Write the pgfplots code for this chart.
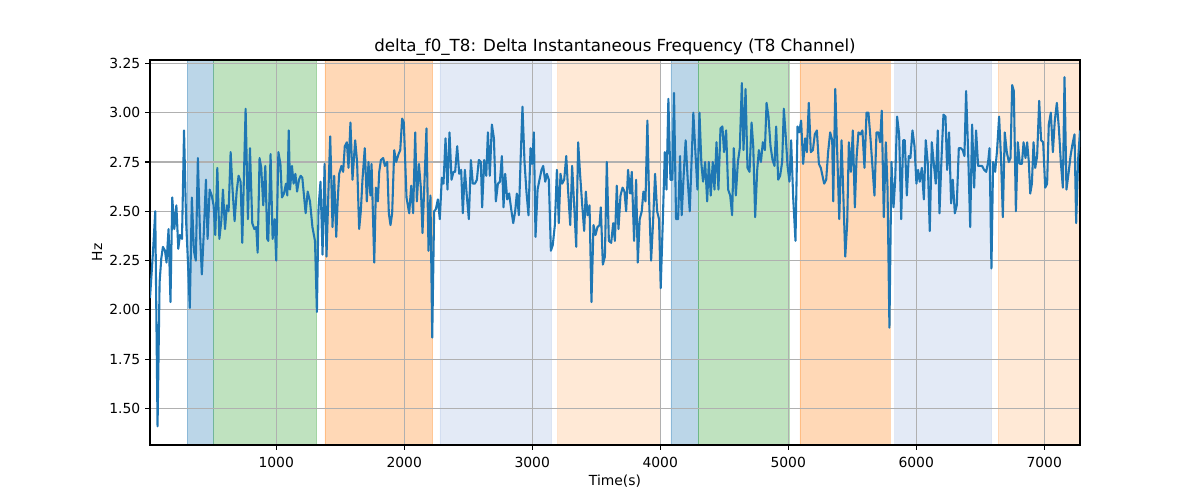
\documentclass[border=0pt]{standalone}
\usepackage{fontspec}
\setmainfont{DejaVu Sans}
\usepackage{pgfplots}
\pgfplotsset{compat=1.18}
\definecolor{tabblue}{HTML}{1F77B4}
\definecolor{taborange}{HTML}{FF7F0E}
\definecolor{tabgreen}{HTML}{2CA02C}
\definecolor{gridgray}{HTML}{B0B0B0}
\definecolor{lavblue}{RGB}{115,150,210}
\pgfplotsset{base/.style={at={(108pt,39.6pt)}, anchor=south west,
  width=669.6pt, height=277.2pt, scale only axis,
  xmin=14, xmax=7280, ymin=1.315, ymax=3.267}}
\begin{document}
\begin{tikzpicture}
\path[use as bounding box] (0,0) rectangle (864pt,360pt);
% background spans
\begin{axis}[base, hide axis]
\addplot[fill=tabblue, fill opacity=0.3, draw=tabblue, draw opacity=0.3] coordinates {(305,0) (511,0) (511,5) (305,5) (305,0)};
\addplot[fill=tabgreen, fill opacity=0.3, draw=tabgreen, draw opacity=0.3] coordinates {(511,0) (1316,0) (1316,5) (511,5) (511,0)};
\addplot[fill=taborange, fill opacity=0.3, draw=taborange, draw opacity=0.3] coordinates {(1380,0) (2222,0) (2222,5) (1380,5) (1380,0)};
\addplot[fill=lavblue, fill opacity=0.2, draw=lavblue, draw opacity=0.15] coordinates {(2279,0) (3152,0) (3152,5) (2279,5) (2279,0)};
\addplot[fill=taborange, fill opacity=0.17, draw=taborange, draw opacity=0.15] coordinates {(3198,0) (4003,0) (4003,5) (3198,5) (3198,0)};
\addplot[fill=tabblue, fill opacity=0.3, draw=tabblue, draw opacity=0.3] coordinates {(4084,0) (4297,0) (4297,5) (4084,5) (4084,0)};
\addplot[fill=tabgreen, fill opacity=0.3, draw=tabgreen, draw opacity=0.3] coordinates {(4297,0) (5008,0) (5008,5) (4297,5) (4297,0)};
\addplot[fill=taborange, fill opacity=0.3, draw=taborange, draw opacity=0.3] coordinates {(5091,0) (5794,0) (5794,5) (5091,5) (5091,0)};
\addplot[fill=lavblue, fill opacity=0.2, draw=lavblue, draw opacity=0.15] coordinates {(5832,0) (6589,0) (6589,5) (5832,5) (5832,0)};
\addplot[fill=taborange, fill opacity=0.17, draw=taborange, draw opacity=0.15] coordinates {(6641,0) (7400,0) (7400,5) (6641,5) (6641,0)};
\end{axis}
\begin{axis}[
  base,
  xtick={1000,2000,3000,4000,5000,6000,7000},
  ytick={1.5,1.75,2,2.25,2.5,2.75,3,3.25},
  xtick pos=bottom, ytick pos=left,
  tick align=outside, major tick length=3.5pt,
  tick style={black, line width=0.8pt},
  axis line style={black, line width=0.8pt},
  grid=major, grid style={gridgray, line width=0.8pt},
  /pgf/number format/assume math mode=true,
  ticklabel style={font=\fontsize{10}{12}\selectfont},
  xticklabel style={/pgf/number format/set thousands separator={}, yshift=-1.5pt},
  yticklabel style={/pgf/number format/fixed, /pgf/number format/fixed zerofill, /pgf/number format/precision=2},
  title={delta\_f0\_T8: Delta Instantaneous Frequency (T8 Channel)},
  every axis title/.style={font=\fontsize{12}{14.4}\selectfont, at={(axis description cs:0.5,1.02165)}, anchor=base, inner sep=0pt},
  xlabel={Time(s)},
  every axis x label/.style={font=\fontsize{10}{12}\selectfont, at={(axis description cs:0.5,-0.1039)}, anchor=base, inner sep=0pt},
  ylabel={Hz},
  every axis y label/.style={font=\fontsize{10}{12}\selectfont, at={(axis description cs:-0.0515,0.5)}, rotate=90, anchor=base, inner sep=0pt},
]
\addplot[tabblue, line width=1.5pt, line join=round, mark=none] coordinates {
(14,2.06) (38,2.30) (55,2.50) (73,1.41) (89,2.14) (102,2.26) (115,2.32) (131,2.30) (143,2.24) (159,2.41) (174,2.04) (188,2.57) (204,2.41) (220,2.53) (235,2.31) (248,2.38) (264,2.36) (280,2.91) (296,2.45) (310,2.25) (325,2.01) (341,2.57) (357,2.30) (372,2.25) (388,2.77) (404,2.40) (419,2.18) (435,2.40) (451,2.66) (464,2.36) (480,2.61) (496,2.58) (511,2.53) (524,2.38) (540,2.72) (556,2.36) (571,2.45) (584,2.61) (600,2.41) (615,2.53) (628,2.50) (644,2.80) (659,2.61) (675,2.45) (691,2.60) (706,2.68) (722,2.65) (735,2.34) (761,3.02) (779,2.46) (795,2.82) (813,2.44) (829,2.41) (844,2.42) (855,2.29) (870,2.77) (883,2.72) (899,2.53) (915,2.73) (930,2.36)
(938,2.35) (956,2.79) (972,2.36) (988,2.46) (1000,2.25) (1017,2.80) (1033,2.74) (1045,2.57) (1061,2.59) (1076,2.64) (1087,2.58) (1098,2.91) (1108,2.61) (1123,2.73) (1136,2.64) (1150,2.69) (1163,2.60) (1178,2.66) (1191,2.68) (1204,2.67) (1217,2.58) (1230,2.49) (1246,2.60) (1264,2.55) (1283,2.42) (1303,2.35) (1318,1.99) (1331,2.52) (1346,2.65) (1362,2.28) (1378,2.74) (1393,2.27) (1408,2.60) (1422,2.88) (1440,2.42) (1453,2.68) (1469,2.37) (1480,2.55) (1492,2.69) (1510,2.73) (1523,2.70) (1536,2.83) (1552,2.85) (1565,2.72) (1580,2.95) (1596,2.66) (1617,2.86) (1632,2.75) (1648,2.41) (1661,2.50) (1674,2.66) (1692,2.82) (1708,2.55) (1721,2.75) (1736,2.58)
(1745,2.74) (1766,2.24) (1779,2.62) (1794,2.55) (1805,2.70) (1818,2.76) (1836,2.77) (1849,2.73) (1867,2.75) (1880,2.49) (1893,2.43) (1906,2.49) (1922,2.81) (1937,2.75) (1956,2.79) (1969,2.81) (1984,2.97) (1997,2.95) (2018,2.57) (2039,2.49) (2055,2.63) (2070,2.49) (2086,2.90) (2099,2.55) (2115,2.74) (2130,2.62) (2143,2.39) (2159,2.66) (2174,2.92) (2190,2.30) (2205,2.58) (2219,1.86) (2234,2.50) (2247,2.51) (2263,2.56) (2278,2.46) (2294,2.67) (2307,2.64) (2323,2.87) (2338,2.61) (2354,2.90) (2370,2.66) (2385,2.70) (2398,2.70) (2414,2.83) (2430,2.69) (2445,2.71) (2458,2.49) (2474,2.71) (2489,2.58) (2505,2.46) (2521,2.76) (2536,2.64) (2552,2.64) (2568,2.66) (2583,2.76) (2599,2.75) (2609,2.52) (2625,2.76) (2641,2.68) (2654,2.90) (2669,2.68) (2685,2.94) (2701,2.87) (2716,2.55) (2732,2.64) (2748,2.65) (2763,2.78) (2776,2.52) (2789,2.69) (2805,2.56) (2820,2.59) (2836,2.51) (2852,2.44) (2867,2.50) (2880,2.59) (2896,2.48) (2909,2.75) (2924,3.03) (2940,2.75) (2955,2.60) (2971,2.48) (2987,2.82) (3000,2.74) (3013,2.90) (3026,2.37) (3042,2.61) (3057,2.66) (3073,2.71) (3086,2.73) (3102,2.65) (3115,2.69) (3130,2.66) (3146,2.30) (3161,2.33) (3177,2.43) (3193,2.71) (3208,2.44) (3221,2.69) (3234,2.64) (3250,2.66) (3266,2.78) (3281,2.60) (3297,2.43) (3312,2.73) (3328,2.53) (3344,2.32) (3359,2.85) (3375,2.68) (3391,2.53) (3406,2.40) (3419,2.60) (3432,2.48) (3448,2.53) (3463,2.04) (3479,2.43) (3495,2.38) (3510,2.42) (3526,2.43) (3536,2.52) (3552,2.23) (3568,2.27) (3583,2.75) (3599,2.35)
(3617,2.34) (3633,2.44) (3646,2.35) (3661,2.63) (3674,2.41) (3690,2.58) (3706,2.62) (3721,2.60) (3734,2.50) (3749,2.71) (3765,2.59) (3778,2.70) (3796,2.35) (3812,2.66) (3825,2.24) (3840,2.46) (3856,2.50) (3869,2.60) (3885,2.55) (3900,2.96) (3913,2.57) (3929,2.25) (3944,2.44) (3960,2.69) (3976,2.50) (3991,2.46) (4004,2.11) (4020,2.44) (4036,2.80) (4049,2.61) (4064,3.07) (4080,2.66) (4095,2.66) (4108,3.10) (4124,2.46) (4140,2.46) (4155,2.78) (4168,2.48) (4184,2.69) (4199,2.86) (4215,2.66) (4231,2.50) (4246,2.77) (4259,3.00) (4275,2.80) (4291,2.61) (4307,3.00) (4322,2.74) (4335,2.65) (4351,2.75) (4367,2.55) (4380,2.75) (4395,2.58) (4411,2.75) (4424,2.61) (4440,2.85) (4455,2.61) (4471,2.92) (4486,2.93) (4499,2.80) (4515,2.91) (4531,2.61) (4547,2.58) (4562,2.48) (4575,2.82) (4591,2.58) (4607,2.75) (4622,2.82) (4638,3.15) (4651,2.81) (4667,3.12) (4682,2.72) (4698,2.70) (4714,2.95) (4727,2.83) (4742,2.47) (4758,2.71) (4771,2.81) (4787,2.75) (4802,2.85) (4818,2.81) (4831,3.05) (4846,2.98) (4862,2.83) (4878,2.76) (4893,2.73) (4906,2.93) (4922,2.66) (4937,2.68) (4953,2.75) (4966,3.02) (4982,2.87) (4995,2.73) (5010,2.65) (5023,2.86) (5039,2.57) (5057,2.35) (5073,2.93) (5086,2.90) (5101,2.96) (5117,2.74) (5133,2.87) (5146,2.80) (5161,3.05) (5177,2.80) (5193,2.81) (5208,2.89) (5224,2.91) (5240,2.74) (5255,2.72) (5268,2.68) (5281,2.64) (5297,2.66) (5312,2.80) (5328,2.90) (5344,2.86)
(5352,2.55) (5368,3.12) (5383,2.80) (5399,2.46) (5417,2.86) (5430,2.60) (5446,2.27) (5461,2.44) (5474,2.85) (5490,2.70) (5505,2.91) (5521,2.52) (5534,2.77) (5549,2.90) (5565,2.89) (5580,2.91) (5596,2.72) (5612,3.00) (5627,3.00) (5643,2.87) (5659,2.72) (5674,2.58) (5690,2.90) (5705,2.90) (5718,2.85) (5731,3.01) (5747,2.47) (5763,2.85) (5776,2.62) (5791,1.91) (5807,2.75) (5823,2.52) (5836,2.66) (5851,2.98) (5867,2.89) (5883,2.46) (5898,2.86) (5911,2.86) (5927,2.58) (5942,2.78) (5955,2.77) (5971,2.91) (5987,2.83) (6002,2.64) (6015,2.71) (6028,2.65) (6044,2.72) (6060,2.56) (6075,2.86) (6091,2.74) (6106,2.40) (6122,2.85) (6138,2.74) (6153,2.64) (6169,2.91) (6182,2.49) (6198,2.77) (6213,2.99) (6229,2.98) (6242,2.71) (6257,2.90) (6273,2.54) (6286,2.66) (6302,2.49) (6317,2.53) (6333,2.82) (6349,2.82) (6364,2.81) (6377,2.78) (6390,3.11) (6406,2.80) (6422,2.42) (6437,2.94) (6453,2.62) (6468,2.91) (6484,2.73) (6500,2.73) (6515,2.73) (6531,2.71) (6547,2.70) (6562,2.75) (6573,2.82) (6588,2.21) (6601,2.75) (6617,2.70) (6632,2.81) (6648,2.98) (6664,2.75) (6677,2.47) (6692,2.90) (6708,2.80) (6724,2.75) (6737,2.77) (6750,3.14) (6763,3.11) (6779,2.50) (6794,2.85) (6810,2.74) (6826,2.74) (6839,2.85) (6854,2.77) (6867,2.85) (6880,2.75) (6891,2.59) (6904,2.64) (6917,2.85) (6930,2.72) (6945,2.78) (6961,3.06) (6976,2.86) (6992,2.85) (7008,2.62) (7023,2.64) (7036,2.94) (7052,3.00) (7068,2.80) (7083,2.96) (7099,3.05) (7115,2.92) (7130,2.75) (7146,2.62) (7159,3.18) (7174,2.61) (7190,2.69) (7206,2.78) (7221,2.84) (7237,2.89) (7250,2.44) (7265,2.76) (7280,2.91)
};
\end{axis}
\end{tikzpicture}
\end{document}
